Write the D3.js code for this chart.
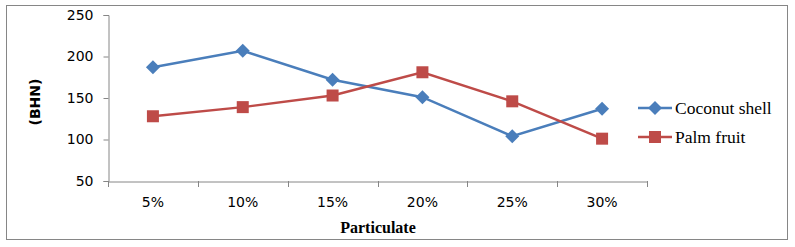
<!DOCTYPE html>
<html>
<head>
<meta charset="utf-8">
<script src="https://cdn.jsdelivr.net/npm/d3@7"></script>
<style>
  body { margin: 0; background: #fff; }
  svg { display: block; }
</style>
</head>
<body>
<script>
// Data
var categories = ["5%", "10%", "15%", "20%", "25%", "30%"];
var coconut = [187, 207, 172, 151, 104, 137];
var palm = [128, 139, 153, 181, 146, 101];
var yTicks = [50, 100, 150, 200, 250];
var seriesNames = ["Coconut shell", "Palm fruit"];

var width = 795, height = 247;
var plotLeft = 108, plotRight = 647, plotTop = 15, plotBottom = 181;

var svg = d3.select("body").append("svg").attr("width", width).attr("height", height);

// Ramme
svg.append("rect")
  .attr("x", 6.5).attr("y", 5.5)
  .attr("width", 781).attr("height", 234)
  .attr("fill", "#fff").attr("stroke", "#868686").attr("stroke-width", 1);

// Skalaer
var xScale = d3.scaleBand().domain(categories).range([plotLeft, plotRight]);
var yScale = d3.scaleLinear().domain([50, 250]).range([plotBottom, plotTop]);

// Y-akse
var yAxis = d3.axisLeft(yScale).tickValues(yTicks).tickSize(5).tickPadding(10);
var gy = svg.append("g").attr("transform", "translate(" + (plotLeft + 0.5) + ",0)").call(yAxis);
gy.select(".domain").attr("stroke", "#868686");
gy.selectAll(".tick line").attr("stroke", "#868686");
gy.selectAll(".tick text")
  .attr("font-family", "'DejaVu Sans', sans-serif").attr("font-size", 14).attr("fill", "#000");

// X-akse
var xAxis = d3.axisBottom(xScale).tickSize(0).tickPadding(16);
var gx = svg.append("g").attr("transform", "translate(0," + (plotBottom + 0.5) + ")").call(xAxis);
gx.select(".domain").attr("stroke", "#868686");
gx.selectAll(".tick text")
  .attr("font-family", "'DejaVu Sans', sans-serif").attr("font-size", 14).attr("fill", "#000");

// Skillelinjer mellem kategorier
var edges = categories.map(function(c) { return xScale(c); }).concat([plotRight]);
svg.append("g").selectAll("line")
  .data(edges)
  .enter()
  .append("line")
  .attr("x1", function(d) { return Math.round(d) + 0.5; })
  .attr("x2", function(d) { return Math.round(d) + 0.5; })
  .attr("y1", plotBottom).attr("y2", plotBottom + 6)
  .attr("stroke", "#868686");

// Aksetitler
svg.append("text")
  .attr("transform", "translate(40,102) rotate(-90)")
  .attr("text-anchor", "middle")
  .attr("font-family", "'DejaVu Sans', sans-serif").attr("font-weight", "bold").attr("font-size", 14)
  .text("(BHN)");

svg.append("text")
  .attr("x", 378).attr("y", 233)
  .attr("text-anchor", "middle")
  .attr("font-family", "'Liberation Serif', serif").attr("font-weight", "bold").attr("font-size", 16)
  .text("Particulate");

// Linjer
var cx = function(d, i) { return xScale(categories[i]) + xScale.bandwidth() / 2; };
var line = d3.line().x(function(d, i) { return cx(d, i); }).y(function(d) { return yScale(d); });

var series = [
  { name: seriesNames[0], values: coconut, color: "#4a7ebb", marker: "diamond" },
  { name: seriesNames[1], values: palm, color: "#be4b48", marker: "square" }
];

function drawMarker(g, type, color) {
  if (type === "diamond") {
    g.append("path").attr("d", "M0,-7L7,0L0,7L-7,0Z").attr("fill", color);
  } else {
    g.append("rect").attr("x", -6).attr("y", -6).attr("width", 12).attr("height", 12).attr("fill", color);
  }
}

series.forEach(function(s) {
  svg.append("path")
    .datum(s.values)
    .attr("d", line)
    .attr("fill", "none")
    .attr("stroke", s.color)
    .attr("stroke-width", 2.5);

  s.values.forEach(function(v, i) {
    var g = svg.append("g").attr("transform", "translate(" + cx(v, i) + "," + yScale(v) + ")");
    drawMarker(g, s.marker, s.color);
  });
});

// Forklaring
series.forEach(function(s, i) {
  var y = 108 + i * 29;
  svg.append("line")
    .attr("x1", 638).attr("x2", 672).attr("y1", y).attr("y2", y)
    .attr("stroke", s.color).attr("stroke-width", 2.5);
  var g = svg.append("g").attr("transform", "translate(655," + y + ")");
  drawMarker(g, s.marker, s.color);
  svg.append("text")
    .attr("x", 675).attr("y", y + 6)
    .attr("font-family", "'Liberation Serif', serif").attr("font-size", 17.5)
    .text(s.name);
});
</script>
</body>
</html>
